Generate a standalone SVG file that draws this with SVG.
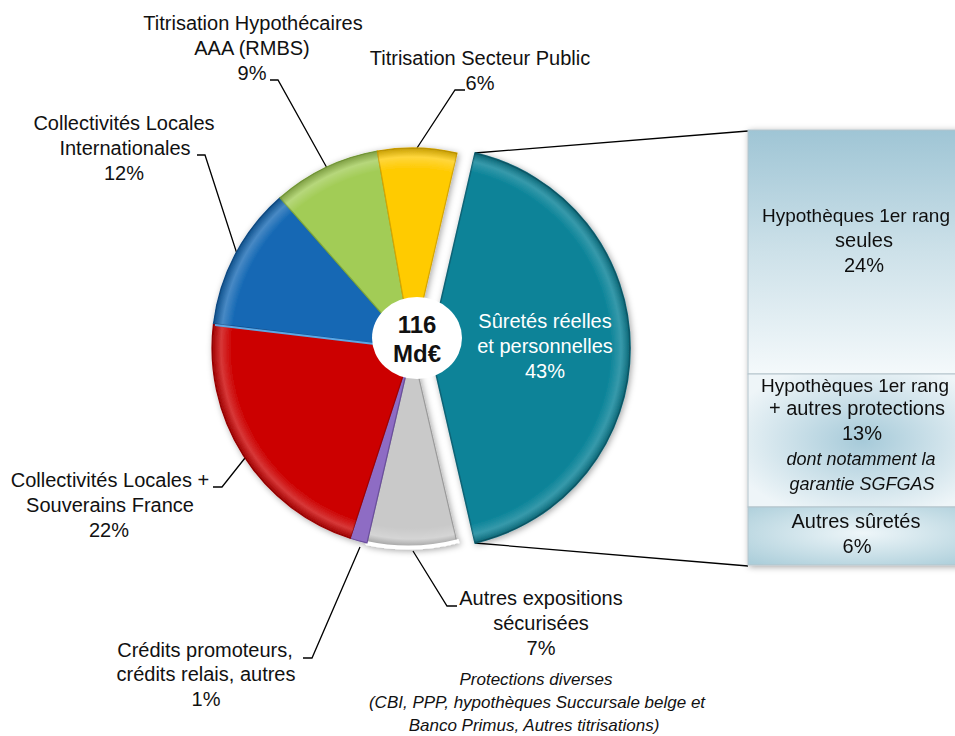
<svg xmlns="http://www.w3.org/2000/svg" width="955" height="736" viewBox="0 0 955 736">
<style>
  text { font-family: "Liberation Sans", Arial, sans-serif; font-size: 20px; fill: #111; text-anchor: middle; }
  .it { font-style: italic; font-size: 17px; }
  .bit { font-style: italic; font-size: 18px; }
  .fit { font-size: 19px; }
  .w { fill: #ffffff; }
  .b { font-weight: bold; font-size: 24px; }
  .lead { fill: none; stroke: #000; stroke-width: 1.3; }
  .rim { stroke: none; }
</style>
<defs>
  <filter id="sh" x="-20%" y="-20%" width="140%" height="140%">
    <feDropShadow dx="1.5" dy="1.5" stdDeviation="3" flood-color="#000" flood-opacity="0.35"/>
  </filter>
  <radialGradient id="rimMain" gradientUnits="userSpaceOnUse" cx="412" cy="348" r="200">
    <stop offset="0" stop-color="#fff" stop-opacity="0"/>
    <stop offset="0.9" stop-color="#fff" stop-opacity="0"/>
    <stop offset="0.955" stop-color="#fff" stop-opacity="0.22"/>
    <stop offset="1" stop-color="#000" stop-opacity="0.22"/>
  </radialGradient>
  <radialGradient id="rimTeal" gradientUnits="userSpaceOnUse" cx="430" cy="348" r="200">
    <stop offset="0" stop-color="#fff" stop-opacity="0"/>
    <stop offset="0.9" stop-color="#fff" stop-opacity="0"/>
    <stop offset="0.955" stop-color="#fff" stop-opacity="0.18"/>
    <stop offset="1" stop-color="#000" stop-opacity="0.25"/>
  </radialGradient>
  <linearGradient id="g1" x1="0" y1="0" x2="0" y2="1">
    <stop offset="0" stop-color="#9fc5d5"/>
    <stop offset="0.5" stop-color="#cde1e9"/>
    <stop offset="1" stop-color="#f4f9fb"/>
  </linearGradient>
  <radialGradient id="g2" cx="0.5" cy="0.5" r="0.6">
    <stop offset="0" stop-color="#a6cad9"/>
    <stop offset="1" stop-color="#eef5f8"/>
  </radialGradient>
  <radialGradient id="g3" cx="0.5" cy="0.45" r="0.7">
    <stop offset="0" stop-color="#eef6f9"/>
    <stop offset="1" stop-color="#acceda"/>
  </radialGradient>
</defs>
<rect width="955" height="736" fill="#ffffff"/>

<g id="connectors">
  <polyline class="lead" points="270,80 278,80 327,168"/>
  <polyline class="lead" points="465,90 455,90 417,148"/>
  <polyline class="lead" points="197,155 205,155 238,257"/>
  <polyline class="lead" points="213,487 222,487 245,458"/>
  <polyline class="lead" points="303,658 312,658 360,547"/>
  <polyline class="lead" points="457,606 447,606 413,551"/>
  <line class="lead" x1="475" y1="153" x2="748" y2="131"/>
  <line class="lead" x1="475" y1="543" x2="748" y2="566"/>
</g>

<g id="pie" filter="url(#sh)">
  <g id="slice-teal">
    <path d="M430,348 L475,153.1 A200,200 0 0 1 475,542.9 Z" fill="#0a8398" stroke="#0a6476" stroke-width="1.5"/>
    <path class="rim" d="M430,348 L475,153.1 A200,200 0 0 1 475,542.9 Z" fill="url(#rimTeal)"/>
  </g>
  <g id="slice-gray">
    <path d="M412,348 L457,542.9 A200,200 0 0 1 367,542.9 Z" fill="#c9c9c9" stroke="#9a9a9a" stroke-width="1.2"/>
    <path class="rim" d="M412,348 L457,542.9 A200,200 0 0 1 367,542.9 Z" fill="url(#rimMain)"/>
    <path d="M459,541 A200,200 0 0 1 366,543" fill="none" stroke="#ffffff" stroke-width="4"/>
  </g>
  <g id="slice-purple">
    <path d="M412,348 L367,542.9 A200,200 0 0 1 350.2,538.2 Z" fill="#8e6cc4" stroke="#6a4e9c" stroke-width="1.2"/>
  </g>
  <g id="slice-red">
    <path d="M412,348 L350.2,538.2 A200,200 0 0 1 213.5,323.6 Z" fill="#cc0000" stroke="#a30000" stroke-width="1.2"/>
    <path class="rim" d="M412,348 L350.2,538.2 A200,200 0 0 1 213.5,323.6 Z" fill="url(#rimMain)"/>
  </g>
  <g id="slice-blue">
    <path d="M412,348 L213.5,323.6 A200,200 0 0 1 280,197.7 Z" fill="#1468b4" stroke="#0f5190" stroke-width="1.2"/>
    <path class="rim" d="M412,348 L213.5,323.6 A200,200 0 0 1 280,197.7 Z" fill="url(#rimMain)"/>
    <line x1="215" y1="325" x2="400" y2="347" stroke="#5aa8e6" stroke-width="2"/>
  </g>
  <g id="slice-green">
    <path d="M412,348 L280,197.7 A200,200 0 0 1 377.3,151 Z" fill="#a2cc56" stroke="#7fa83c" stroke-width="1.2"/>
    <path class="rim" d="M412,348 L280,197.7 A200,200 0 0 1 377.3,151 Z" fill="url(#rimMain)"/>
  </g>
  <g id="slice-yellow">
    <path d="M412,348 L377.3,151 A200,200 0 0 1 457,153.1 Z" fill="#ffcb05" stroke="#d6a600" stroke-width="1.2"/>
    <path class="rim" d="M412,348 L377.3,151 A200,200 0 0 1 457,153.1 Z" fill="url(#rimMain)"/>
  </g>
</g>

<g id="center">
  <ellipse cx="417" cy="338" rx="45" ry="41" fill="#ffffff"/>
  <text class="b" x="417" y="333">116</text>
  <text class="b" x="417" y="362">Md€</text>
</g>

<g id="label-teal">
  <text class="w" x="545" y="328">Sûretés réelles</text>
  <text class="w" x="545" y="353">et personnelles</text>
  <text class="w" x="545" y="378">43%</text>
</g>

<g id="label-rmbs">
  <text x="253" y="30">Titrisation Hypothécaires</text>
  <text x="252" y="55">AAA (RMBS)</text>
  <text x="252" y="80">9%</text>
</g>
<g id="label-public">
  <text x="480" y="65">Titrisation Secteur Public</text>
  <text x="480" y="90">6%</text>
</g>
<g id="label-intl">
  <text x="124" y="130">Collectivités Locales</text>
  <text x="125" y="155">Internationales</text>
  <text x="124" y="180">12%</text>
</g>
<g id="label-france">
  <text x="110" y="487">Collectivités Locales +</text>
  <text x="110" y="512">Souverains France</text>
  <text x="109" y="537">22%</text>
</g>
<g id="label-credits">
  <text x="205" y="657">Crédits promoteurs,</text>
  <text x="206" y="681">crédits relais, autres</text>
  <text x="206" y="706">1%</text>
</g>
<g id="label-autres">
  <text x="541" y="605">Autres expositions</text>
  <text x="541" y="630">sécurisées</text>
  <text x="541" y="655">7%</text>
  <text class="it" x="536" y="685">Protections diverses</text>
  <text class="it" x="537" y="708">(CBI, PPP, hypothèques Succursale belge et</text>
  <text class="it" x="534" y="731">Banco Primus, Autres titrisations)</text>
</g>

<g id="breakdown" filter="url(#sh)">
  <g id="box-hyp-seules">
    <rect x="748" y="130" width="230" height="244" fill="url(#g1)" stroke="#b4c4cb" stroke-width="1"/>
    <text class="fit" x="856" y="222">Hypothèques 1er rang</text>
    <text x="864" y="247">seules</text>
    <text x="864" y="272">24%</text>
  </g>
  <g id="box-hyp-autres">
    <rect x="748" y="374" width="230" height="133" fill="url(#g2)" stroke="#b4c4cb" stroke-width="1"/>
    <text class="fit" x="855" y="392">Hypothèques 1er rang</text>
    <text x="857" y="415">+ autres protections</text>
    <text x="862" y="440">13%</text>
    <text class="bit" x="861" y="465">dont notamment la</text>
    <text class="bit" x="862" y="490">garantie SGFGAS</text>
  </g>
  <g id="box-autres">
    <rect x="748" y="507" width="230" height="58" fill="url(#g3)" stroke="#b4c4cb" stroke-width="1"/>
    <text x="856" y="528">Autres sûretés</text>
    <text x="857" y="553">6%</text>
  </g>
</g>
</svg>
